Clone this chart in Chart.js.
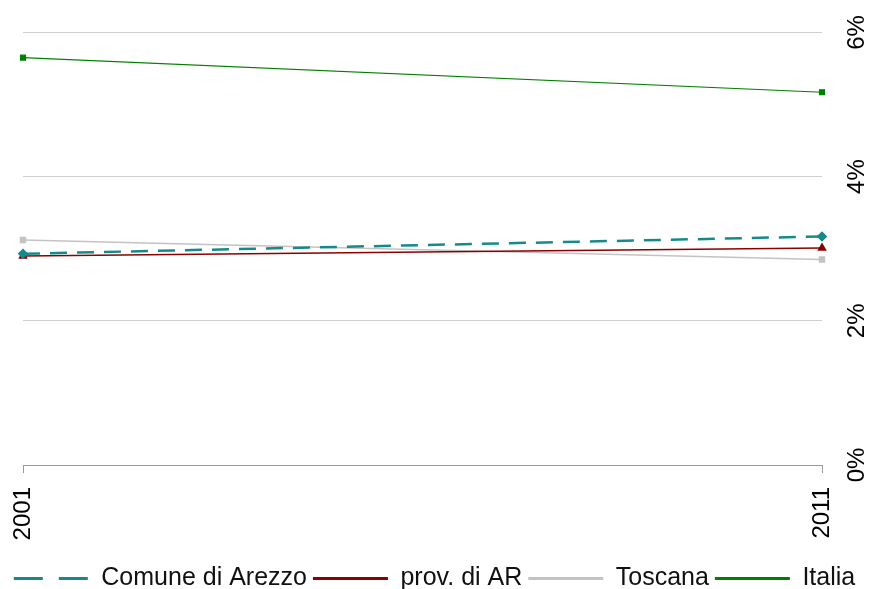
<!DOCTYPE html>
<html>
<head>
<meta charset="utf-8">
<script src="https://cdn.jsdelivr.net/npm/chart.js@4"></script>
<style>
  html, body { margin: 0; padding: 0; background: #fff; }
  #wrap { width: 869px; height: 589px; }
</style>
</head>
<body>
<div id="wrap"><canvas id="chart"></canvas></div>
<script>
var years = ['2001', '2011'];
var yTickLabels = ['0%', '2%', '4%', '6%'];
var comune = [2.93, 3.17];
var provincia = [2.90, 3.01];
var toscana = [3.12, 2.85];
var italia = [5.65, 5.17];

function chart(name) {
    var tickFont = { family: 'Arial, "Liberation Sans", sans-serif', size: 24 };
    var legendFont = { family: 'Arial, "Liberation Sans", sans-serif', size: 25 };
    var myChart = new Chart(document.getElementById(name), {
        type: 'line',
        data: {
            labels: years,
            datasets: [{
                label: 'Comune di Arezzo',
                data: comune,
                borderColor: '#168a8a',
                backgroundColor: '#168a8a',
                borderWidth: 2.5,
                borderDash: [17, 10],
                pointStyle: 'rectRot',
                pointRadius: 3.5
            }, {
                label: 'prov. di AR',
                data: provincia,
                borderColor: '#8b0000',
                backgroundColor: '#8b0000',
                borderWidth: 1.5,
                pointStyle: 'triangle',
                pointRadius: 4
            }, {
                label: 'Toscana',
                data: toscana,
                borderColor: '#c3c3c3',
                backgroundColor: '#c3c3c3',
                borderWidth: 1.5,
                pointStyle: 'rect',
                pointRadius: 3.5
            }, {
                label: 'Italia',
                data: italia,
                borderColor: '#008000',
                backgroundColor: '#008000',
                borderWidth: 1.2,
                pointStyle: 'rect',
                pointRadius: 3.5
            }]
        },
        options: {
            responsive: true,
            maintainAspectRatio: false,
            animation: false,
            layout: { padding: { left: 0, top: 30, right: 0, bottom: -12 } },
            scales: {
                x: {
                    offset: false,
                    grid: { drawOnChartArea: false, drawTicks: true, tickLength: 8, color: '#9a9a9a' },
                    border: { display: true, color: '#9a9a9a' },
                    ticks: { color: '#000', font: tickFont, minRotation: 90, maxRotation: 90, padding: 14 },
                    afterFit: function (scale) {
                        scale.height = 95;
                        scale.paddingLeft = 23;
                    }
                },
                y: {
                    position: 'right',
                    min: 0,
                    max: 6,
                    grid: { color: '#cfcfcf', drawTicks: false },
                    border: { display: false },
                    ticks: {
                        stepSize: 2,
                        color: '#000',
                        font: tickFont,
                        minRotation: 90,
                        maxRotation: 90,
                        crossAlign: 'center',
                        padding: 18,
                        callback: function (v) { return yTickLabels[v / 2]; }
                    },
                    afterFit: function (scale) { scale.width = 47; }
                }
            },
            plugins: {
                tooltip: { enabled: false },
                legend: {
                    position: 'bottom',
                    labels: {
                        color: '#111',
                        font: legendFont,
                        usePointStyle: true,
                        pointStyle: 'line',
                        pointStyleWidth: 75,
                        boxHeight: 3,
                        padding: 6,
                        generateLabels: function (c) {
                            var items = Chart.defaults.plugins.legend.labels.generateLabels(c);
                            items.forEach(function (it, i) {
                                it.lineWidth = 3;
                                it.pointStyle = 'line';
                                it.lineDash = i === 0 ? [29, 16] : [];
                            });
                            return items;
                        }
                    }
                }
            }
        }
    });
    return myChart;
}

chart('chart');
</script>
</body>
</html>
